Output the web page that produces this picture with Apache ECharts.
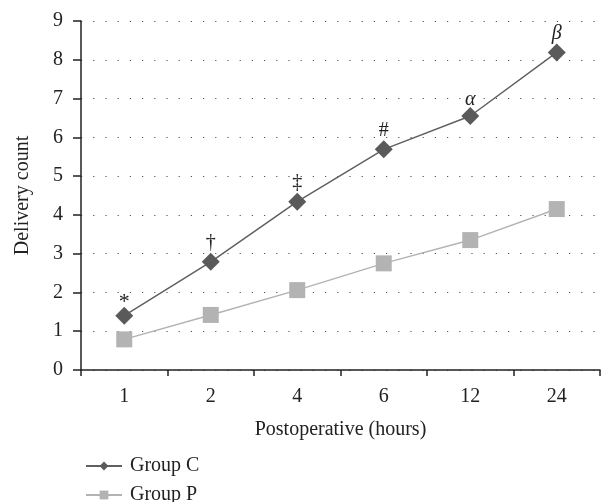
<!DOCTYPE html>
<html>
<head>
<meta charset="utf-8">
<script src="https://cdn.jsdelivr.net/npm/echarts@6/dist/echarts.min.js"></script>
<style>html,body{margin:0;padding:0;background:#fff}#c{width:606px;height:502px}</style>
</head>
<body>
<div id="c"></div>
<script>
const categories = ['1', '2', '4', '6', '12', '24'];
const groupC = [1.40, 2.79, 4.34, 5.69, 6.55, 8.19];
const groupP = [0.79, 1.42, 2.06, 2.75, 3.35, 4.15];
const marks = ['*', '\u2020', '\u2021', '#', '\u03b1', '\u03b2'];
const italicMarks = ['\u03b1', '\u03b2'];
const yTicks = [0, 1, 2, 3, 4, 5, 6, 7, 8, 9];

const serif = '"Liberation Serif", "DejaVu Serif", serif';
const fs = 20;
// small glyph-specific nudges so each mark sits like in the reference
const markNudge = {'*': 7, '\u03b1': 3};
const chart = echarts.init(document.getElementById('c'), null, {renderer: 'canvas'});
const legendCommon = {
  orient: 'vertical', left: 80,
  itemWidth: 36, itemHeight: 11, itemGap: 10,
  textStyle: {fontFamily: serif, fontSize: fs, color: '#222', padding: [0, 0, 0, 3]}
};
chart.setOption({
  animation: false,
  textStyle: {fontFamily: serif},
  grid: {left: 81, right: 6, top: 21, bottom: 132},
  legend: [
    Object.assign({top: 451, data: ['Group C']}, legendCommon),
    Object.assign({top: 480, data: ['Group P']}, legendCommon)
  ],
  xAxis: {
    type: 'category', data: categories, boundaryGap: true,
    name: 'Postoperative (hours)', nameLocation: 'middle', nameGap: 50,
    nameTextStyle: {fontFamily: serif, fontSize: fs, color: '#222'},
    axisLine: {lineStyle: {color: '#222', width: 1.5}},
    axisTick: {show: true, length: 6, alignWithLabel: false, lineStyle: {color: '#222', width: 1.5}},
    axisLabel: {margin: 17, fontFamily: serif, fontSize: fs, color: '#222'},
    splitLine: {show: false}
  },
  yAxis: {
    type: 'value', min: yTicks[0], max: yTicks[yTicks.length - 1], interval: 1,
    name: 'Delivery count', nameLocation: 'middle', nameGap: 48, nameRotate: 90,
    nameTextStyle: {fontFamily: serif, fontSize: fs, color: '#222'},
    axisLine: {show: true, lineStyle: {color: '#222', width: 1.5}},
    axisTick: {show: true, length: 8, lineStyle: {color: '#222', width: 1.5}},
    axisLabel: {margin: 18, fontFamily: serif, fontSize: fs, color: '#222'},
    splitLine: {show: true, lineStyle: {color: '#555', width: 1.2, type: [1.2, 11]}}
  },
  series: [
    {
      name: 'Group C', type: 'line', data: groupC.map((v, i) => ({
        value: v,
        label: {
          show: true, position: 'top', distance: 0,
          offset: [0, markNudge[marks[i]] || 0],
          formatter: marks[i],
          fontFamily: serif, fontSize: marks[i] === '*' ? 22 : fs, color: '#222',
          fontStyle: italicMarks.includes(marks[i]) ? 'italic' : 'normal'
        }
      })),
      symbol: 'diamond', symbolSize: 18,
      itemStyle: {color: '#5a5a5a'},
      lineStyle: {color: '#606060', width: 1.5},
      z: 3
    },
    {
      name: 'Group P', type: 'line', data: groupP,
      symbol: 'rect', symbolSize: 16,
      itemStyle: {color: '#b3b3b3'},
      lineStyle: {color: '#b3b3b3', width: 1.5},
      z: 2
    }
  ]
});
</script>
</body>
</html>
